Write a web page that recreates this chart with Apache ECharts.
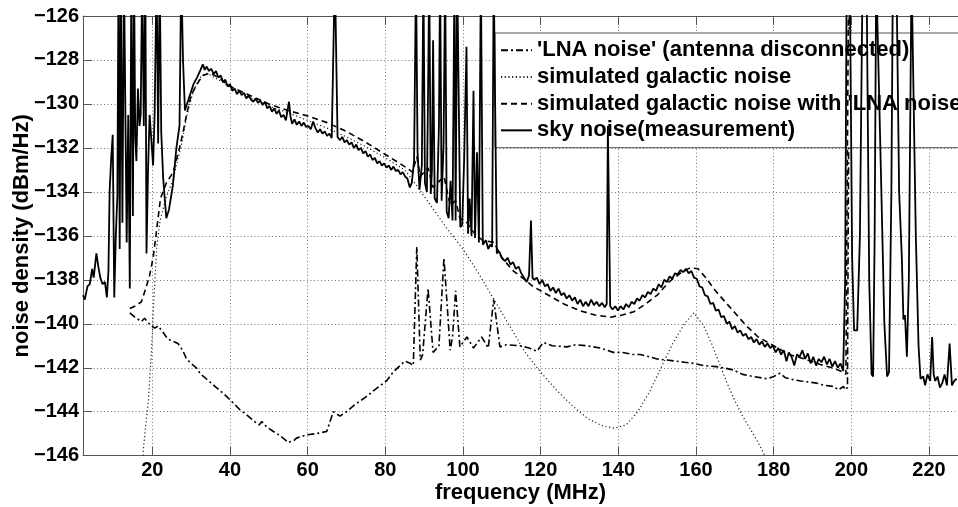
<!DOCTYPE html>
<html><head><meta charset="utf-8">
<script src="https://cdn.jsdelivr.net/npm/echarts@6/dist/echarts.min.js"></script>
<style>html,body{margin:0;padding:0;background:#fff}#c{width:958px;height:507px}</style>
</head><body><div id="c"></div>
<script>
const seriesNames = ["'LNA noise' (antenna disconnected)", "simulated galactic noise", "simulated galactic noise with 'LNA noise'", "sky noise(measurement)"];
const xTicks = [20, 40, 60, 80, 100, 120, 140, 160, 180, 200, 220];
const yTicks = [-146, -144, -142, -140, -138, -136, -134, -132, -130, -128, -126];
const xTitle = 'frequency (MHz)';
const yTitle = 'noise density (dBm/Hz)';

const lnaNoise = [[14.2,-139.5],[15.5,-139.7],[17.2,-139.9],[18.0,-139.75],[19.2,-140.0],[20.6,-140.2],[21.5,-140.1],[22.8,-140.4],[24,-140.7],[25.4,-140.8],[26.6,-140.9],[27.8,-141.2],[28.8,-141.6],[30,-141.8],[31.3,-142.0],[32.5,-142.3],[33.9,-142.5],[35.2,-142.7],[36.5,-142.9],[37.8,-143.1],[39.1,-143.3],[40.8,-143.6],[42.5,-143.9],[44,-144.1],[46,-144.4],[47.5,-144.6],[48.2,-144.45],[49.5,-144.7],[51.2,-144.9],[53,-145.1],[55,-145.4],[56.5,-145.3],[57.1,-145.2],[59.8,-145.05],[62,-145.0],[64.9,-144.9],[66.6,-144.0],[68.3,-144.2],[70,-144.0],[72,-143.7],[75.2,-143.3],[78,-142.9],[80.3,-142.6],[82,-142.2],[83.8,-141.9],[85,-141.7],[86.4,-141.8],[87.2,-141.9],[88.1,-136.5],[89.0,-141.65],[89.6,-141.4],[91.0,-138.4],[92.3,-141.3],[93.8,-141.0],[95.1,-137.0],[96.7,-141.2],[97.3,-140.6],[98.1,-138.5],[99.2,-141.05],[101.0,-140.6],[102.7,-141.1],[104.8,-140.6],[106.5,-141.1],[107.9,-138.9],[109.5,-141.05],[111.2,-140.95],[114.7,-141.0],[117,-141.1],[119.0,-141.25],[120.7,-140.85],[123,-141.0],[126.7,-141.05],[129,-140.95],[131.9,-141.0],[135.3,-141.1],[137,-141.2],[138.7,-141.3],[141,-141.3],[143.8,-141.4],[145.6,-141.4],[148,-141.5],[150,-141.6],[152.5,-141.65],[155,-141.7],[157,-141.75],[159.4,-141.8],[162,-141.9],[165.3,-141.95],[167,-142.0],[169.6,-142.1],[172,-142.3],[174.8,-142.4],[176.5,-142.45],[178.2,-142.5],[180,-142.4],[181.6,-142.25],[183,-142.45],[185.1,-142.55],[187,-142.6],[189,-142.65],[191.1,-142.7],[193,-142.8],[195.4,-142.85],[196.7,-143.0],[198,-142.85],[198.3,-143.0],[199.0,-142.9],[199.5,-124]];

const galacticNoise = [[17.5,-146.5],[17.7,-145.7],[18.3,-144.6],[19.0,-143.5],[19.8,-141.2],[20.4,-138.9],[21.1,-136.6],[22,-135.3],[23.5,-134.3],[25.4,-133.4],[26.6,-132.5],[27.6,-131.8],[28.8,-130.6],[30.6,-129.4],[32.3,-128.8],[34.0,-128.6],[36,-128.8],[38,-129.0],[40,-129.25],[45,-129.7],[50,-130.1],[55,-130.4],[60,-130.75],[65,-131.1],[70,-131.5],[75,-131.95],[80,-132.45],[85,-133.0],[88,-133.7],[92,-134.7],[96,-135.7],[100,-136.6],[104,-137.7],[108,-138.9],[112,-140.1],[116,-141.3],[120,-142.2],[124,-143.0],[128,-143.7],[132,-144.3],[136,-144.65],[139,-144.75],[142,-144.6],[145,-144.0],[148,-143.1],[151,-142.0],[154,-140.9],[157,-140.0],[159.5,-139.5],[162,-140.1],[164,-140.9],[166,-141.8],[168,-142.7],[170,-143.5],[172,-144.2],[174,-144.8],[176,-145.4],[178,-146.1],[179,-146.5]];

const galacticWithLna = [[14.2,-139.3],[15.5,-139.2],[17.2,-139.0],[18.3,-138.4],[19.3,-137.8],[20.2,-137.0],[21.0,-135.9],[22.1,-134.3],[23.6,-133.6],[25.4,-133.1],[27,-132.0],[27.9,-131.3],[28.8,-130.5],[30,-129.6],[31.5,-129.1],[33,-128.7],[35,-128.6],[37,-128.8],[40,-129.2],[45,-129.6],[50,-130.0],[55,-130.3],[60,-130.55],[65,-130.85],[70,-131.25],[75,-131.75],[80,-132.3],[85,-132.85],[87,-133.1],[88.1,-132.4],[89,-133.3],[91,-132.9],[92.3,-133.8],[95.1,-133.3],[96.7,-134.6],[98.1,-134.4],[99.2,-135.2],[101,-135.4],[103,-135.9],[105,-136.2],[108,-136.3],[110,-137.0],[113,-137.6],[116,-138.0],[118,-138.3],[122,-138.7],[126,-139.1],[130,-139.4],[134,-139.6],[138,-139.7],[141,-139.6],[144,-139.45],[147,-139.1],[150,-138.7],[153,-138.1],[156,-137.7],[158.5,-137.45],[160.5,-137.5],[162.5,-137.9],[165,-138.5],[167.5,-139.0],[170,-139.5],[173,-140.1],[176,-140.6],[180,-141.0],[184,-141.4],[188,-141.6],[192,-141.85],[195,-142.0],[198,-142.2],[198.6,-142.3],[199.3,-124]];

const skyNoise = [[2.15,-138.7],[2.6,-138.9],[3.3,-138.3],[3.9,-138.2],[4.5,-137.5],[4.9,-137.9],[5.6,-136.8],[6.1,-137.4],[6.6,-137.9],[7.2,-138.2],[7.8,-138.1],[8.3,-138.8],[8.7,-137.6],[9.0,-134.0],[9.4,-132.5],[9.8,-131.4],[10.2,-138.8],[10.6,-136.0],[11.0,-134.2],[11.3,-124],[11.6,-136.6],[11.9,-124],[12.3,-135.4],[12.7,-124],[13.1,-131.0],[13.4,-136.3],[13.8,-130.5],[14.2,-138.4],[14.6,-124],[15.0,-135.1],[15.3,-124],[15.6,-131.5],[15.9,-132.6],[16.3,-129.3],[16.7,-131.0],[17.0,-130.5],[17.4,-124],[17.8,-131.0],[18.2,-124],[18.5,-136.8],[18.9,-133.0],[19.3,-130.5],[19.7,-131.5],[20.2,-132.8],[20.6,-130.4],[21.1,-124],[21.5,-131.8],[21.9,-124],[22.3,-131.3],[22.8,-133.4],[23.6,-135.2],[24.3,-134.8],[25.3,-133.7],[26.2,-132.0],[27.0,-131.0],[27.45,-124],[27.7,-124],[27.9,-128.0],[28.4,-130.3],[29.5,-129.7],[30.6,-129.1],[31.5,-128.8],[32.3,-128.5],[33.0,-128.2],[33.5,-128.45],[34.0,-128.3],[34.6,-128.5],[35.2,-128.4],[35.8,-128.65],[36.4,-128.5],[37.0,-128.8],[37.6,-128.7],[38.2,-129.0],[38.8,-128.9],[39.4,-129.2],[40.0,-129.1],[40.6,-129.4],[41.2,-129.3],[41.8,-129.55],[42.4,-129.4],[43.0,-129.6],[43.6,-129.5],[44.2,-129.75],[44.8,-129.6],[45.4,-129.8],[46.0,-129.9],[46.6,-129.75],[47.2,-129.95],[47.8,-129.85],[48.4,-130.05],[49.0,-129.9],[49.6,-130.2],[50.2,-130.1],[50.8,-130.35],[51.4,-130.2],[52.0,-130.45],[52.6,-130.3],[53.2,-130.6],[53.8,-130.5],[54.4,-130.75],[54.8,-130.3],[55.2,-129.9],[55.6,-130.6],[56.0,-130.9],[56.6,-130.7],[57.2,-130.95],[57.8,-130.8],[58.4,-131.0],[59.0,-130.85],[59.6,-131.05],[60.2,-131.0],[60.8,-131.15],[61.4,-130.8],[62.0,-131.1],[62.6,-131.3],[63.2,-131.15],[63.8,-131.35],[64.4,-131.25],[65.0,-131.45],[65.6,-131.35],[66.2,-131.55],[66.7,-131.5],[67.0,-124],[67.4,-124],[67.7,-131.5],[68.3,-131.65],[68.9,-131.5],[69.5,-131.75],[70.1,-131.65],[70.7,-131.85],[71.3,-131.75],[71.9,-132.0],[72.5,-131.85],[73.1,-132.1],[73.7,-132.0],[74.3,-132.25],[74.9,-132.15],[75.5,-132.4],[76.1,-132.3],[76.7,-132.55],[77.3,-132.45],[77.9,-132.7],[78.5,-132.6],[79.1,-132.8],[79.7,-132.7],[80.3,-132.9],[80.9,-132.8],[81.5,-133.0],[82.1,-132.85],[82.7,-133.05],[83.3,-133.0],[83.9,-133.2],[84.5,-133.1],[85.1,-133.3],[85.7,-133.4],[86.3,-133.8],[86.8,-133.6],[87.4,-132.6],[87.9,-124],[88.3,-132.2],[88.8,-133.9],[89.4,-132.8],[89.8,-124],[90.2,-133.6],[90.7,-134.0],[91.0,-129.5],[91.3,-124],[91.7,-134.1],[92.0,-133.0],[92.3,-127.1],[92.7,-134.3],[93.3,-134.5],[93.8,-131.0],[94.1,-124],[94.5,-134.4],[95.0,-131.8],[95.4,-124],[95.8,-134.9],[96.3,-135.2],[96.8,-133.5],[97.3,-135.3],[97.8,-124],[98.1,-135.3],[98.5,-124],[98.9,-124],[99.3,-135.6],[99.8,-135.5],[100.3,-132.5],[100.9,-127.4],[101.3,-135.9],[101.7,-134.3],[102.2,-136.0],[102.7,-129.4],[103.1,-136.1],[103.6,-132.2],[104.1,-136.3],[104.6,-124],[105.1,-136.4],[105.9,-136.2],[106.5,-136.6],[107.0,-136.4],[107.5,-136.5],[107.9,-124],[108.3,-124],[108.7,-136.8],[109.3,-136.7],[110.0,-137.0],[110.8,-137.15],[111.5,-137.0],[112.2,-137.3],[112.9,-137.2],[113.6,-137.5],[114.3,-137.4],[115.0,-137.7],[115.7,-137.9],[116.4,-138.1],[117.0,-137.8],[117.5,-135.3],[117.9,-137.9],[118.3,-138.0],[119.0,-137.9],[119.7,-138.2],[120.4,-138.0],[121.1,-138.3],[121.8,-138.2],[122.5,-138.5],[123.2,-138.35],[123.9,-138.6],[124.6,-138.4],[125.3,-138.7],[126.0,-138.6],[126.7,-138.85],[127.4,-138.7],[128.1,-138.95],[128.8,-138.8],[129.5,-139.1],[130.2,-138.9],[130.9,-139.2],[131.6,-139.0],[132.3,-139.2],[133.0,-138.9],[133.7,-139.15],[134.4,-139.0],[135.1,-139.2],[135.8,-139.05],[136.5,-139.25],[137.0,-139.1],[137.3,-131.0],[137.6,-131.0],[137.9,-139.2],[138.5,-139.35],[139.2,-139.2],[139.9,-139.4],[140.6,-139.2],[141.3,-139.35],[142.0,-139.1],[142.7,-139.25],[143.4,-139.0],[144.1,-139.1],[144.8,-138.85],[145.5,-138.95],[146.2,-138.7],[146.9,-138.8],[147.6,-138.55],[148.3,-138.65],[149.0,-138.4],[149.7,-138.5],[150.4,-138.2],[151.1,-138.35],[151.8,-138.0],[152.5,-138.1],[153.2,-137.85],[153.9,-137.95],[154.6,-137.7],[155.3,-137.75],[156.0,-137.55],[156.7,-137.65],[157.4,-137.5],[158.1,-137.7],[158.8,-137.6],[159.5,-137.9],[160.2,-137.95],[160.9,-138.3],[161.6,-138.35],[162.3,-138.7],[163.0,-138.75],[163.7,-139.1],[164.4,-139.05],[165.1,-139.4],[165.8,-139.35],[166.5,-139.7],[167.2,-139.65],[167.9,-140.0],[168.6,-139.9],[169.3,-140.25],[170.0,-140.1],[170.7,-140.4],[171.4,-140.3],[172.1,-140.55],[172.8,-140.45],[173.5,-140.7],[174.2,-140.6],[174.9,-140.85],[175.6,-140.7],[176.3,-140.95],[177.0,-140.8],[177.7,-141.05],[178.4,-140.9],[179.1,-141.1],[179.8,-141.0],[180.5,-141.3],[181.2,-141.1],[181.9,-141.4],[182.6,-141.2],[183.3,-141.7],[183.9,-141.3],[184.6,-141.5],[185.3,-141.9],[186.0,-141.4],[186.7,-141.5],[187.4,-141.2],[188.1,-141.6],[188.8,-141.35],[189.5,-141.8],[190.2,-141.5],[190.9,-141.9],[191.6,-141.6],[192.3,-141.75],[193.0,-141.5],[193.7,-141.85],[194.4,-141.6],[195.1,-141.95],[195.8,-141.7],[196.5,-142.0],[197.2,-141.8],[197.9,-142.15],[198.4,-138.0],[198.8,-124],[199.6,-124],[200.2,-137.0],[200.7,-140.3],[201.5,-140.3],[202.2,-136.0],[202.9,-124],[203.9,-124],[204.6,-138.0],[205.2,-142.3],[205.6,-142.4],[206.0,-136.0],[206.4,-124],[206.9,-124],[207.6,-133.0],[208.5,-140.0],[209.2,-142.4],[209.7,-142.2],[210.3,-134.0],[210.7,-124],[211.6,-124],[212.3,-134.0],[213.0,-137.0],[213.4,-139.8],[213.8,-139.6],[214.3,-141.5],[214.8,-138.0],[215.5,-124],[215.9,-124],[216.6,-136.0],[217.3,-141.0],[217.8,-142.5],[218.5,-142.4],[219.0,-142.8],[219.6,-142.3],[220.3,-142.6],[220.8,-140.6],[221.2,-142.3],[221.6,-142.6],[222.2,-142.4],[222.8,-142.9],[223.4,-142.7],[224.0,-142.3],[224.6,-142.8],[225.3,-140.9],[225.9,-142.8],[226.5,-142.6],[227.1,-142.5]];

const FONT = "'Liberation Sans', Arial, sans-serif";
const chart = echarts.init(document.getElementById('c'), null, {renderer: 'canvas'});
const axisColor = '#555';
const gridLine = {show: true, lineStyle: {color: '#777', width: 1, type: [1, 2.5]}};
function lbl(v) { return String(v).replace('-', '\u2212'); }

chart.setOption({
  animation: false,
  backgroundColor: '#fff',
  grid: {left: 83, right: 0, top: 16, bottom: 51.3, containLabel: false, outerBoundsMode: 'none'},
  legend: {
    show: true, orient: 'vertical', left: 495, top: 33,
    padding: [4, 5, 4, 5], itemGap: 0, itemWidth: 31, itemHeight: 14,
    backgroundColor: '#fff', borderColor: axisColor, borderWidth: 1, borderRadius: 0,
    selectedMode: false,
    itemStyle: {opacity: 0, borderWidth: 0},
    textStyle: {fontFamily: FONT, fontSize: 22, fontWeight: 'bold', color: '#000', lineHeight: 26.67},
    data: seriesNames
  },
  xAxis: [{
    type: 'value', min: 2.15, max: 227.46, position: 'bottom',
    name: xTitle, nameLocation: 'middle', nameGap: 26, nameMoveOverlap: false,
    nameTextStyle: {fontFamily: FONT, fontSize: 22, fontWeight: 'bold', color: '#000'},
    axisLine: {show: true, onZero: false, lineStyle: {color: axisColor, width: 1}},
    axisTick: {show: true, inside: true, length: 9, customValues: xTicks, lineStyle: {color: axisColor}},
    axisLabel: {show: true, customValues: xTicks, margin: 5, fontFamily: FONT, fontSize: 20, fontWeight: 'bold', color: '#000'},
    splitLine: gridLine
  }, {
    type: 'value', min: 2.15, max: 227.46, position: 'top',
    axisLine: {show: true, onZero: false, lineStyle: {color: axisColor, width: 1}},
    axisTick: {show: true, inside: true, length: 9, customValues: xTicks, lineStyle: {color: axisColor}},
    axisLabel: {show: false}, splitLine: {show: false}
  }],
  yAxis: [{
    type: 'value', min: yTicks[0], max: yTicks[yTicks.length - 1], interval: 2,
    name: yTitle, nameLocation: 'middle', nameGap: 50, nameRotate: 90, nameMoveOverlap: false,
    nameTextStyle: {fontFamily: FONT, fontSize: 22, fontWeight: 'bold', color: '#000'},
    axisLine: {show: true, onZero: false, lineStyle: {color: axisColor, width: 1}},
    axisTick: {show: true, inside: true, length: 9, lineStyle: {color: axisColor}},
    axisLabel: {show: true, margin: 4, fontFamily: FONT, fontSize: 20, fontWeight: 'bold', color: '#000', formatter: lbl},
    splitLine: gridLine
  }],
  series: [
    {name: seriesNames[0], type: 'line', data: lnaNoise, symbol: 'none', silent: true, z: 3,
     lineStyle: {color: '#000', width: 1.6, type: [7, 3, 2, 3]}, itemStyle: {color: '#000'}},
    {name: seriesNames[1], type: 'line', data: galacticNoise, symbol: 'none', silent: true, z: 2,
     lineStyle: {color: '#222', width: 1.2, type: [1.2, 2.5]}, itemStyle: {color: '#000'}},
    {name: seriesNames[2], type: 'line', data: galacticWithLna, symbol: 'none', silent: true, z: 4,
     lineStyle: {color: '#000', width: 1.6, type: [6, 4]}, itemStyle: {color: '#000'}},
    {name: seriesNames[3], type: 'line', data: skyNoise, symbol: 'none', silent: true, z: 5,
     lineStyle: {color: '#000', width: 1.8, type: 'solid'}, itemStyle: {color: '#000'}}
  ]
});
</script>
</body></html>
